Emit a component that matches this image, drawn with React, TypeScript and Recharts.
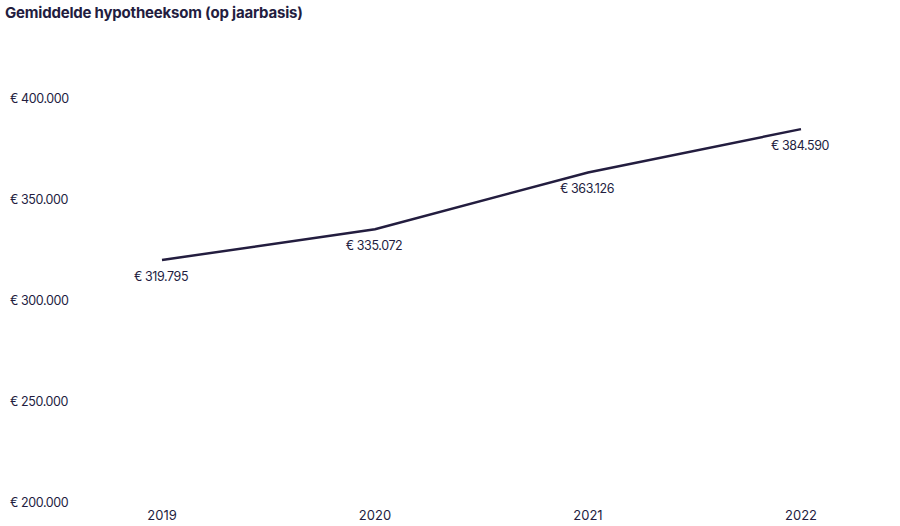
import { LineChart, Line, XAxis, YAxis, LabelList } from "recharts";

const years = ["2019", "2020", "2021", "2022"];
const mortgageAmounts = [319795, 335072, 363126, 384590];
const yTicks = [200000, 250000, 300000, 350000, 400000];

const data = years.map((year, i) => ({ year, amount: mortgageAmounts[i] }));

const ink = "#231d3f";
const font = "Inter, 'Noto Sans', sans-serif";

const euro = (v: number) => `€ ${v.toLocaleString("nl-NL")}`;

const YTick = ({ y, payload }: any) => (
  <text x={10} y={y + 5} textAnchor="start" fill={ink} fontSize={12.5} letterSpacing={-0.4} fontFamily={font}>
    {euro(payload.value)}
  </text>
);

const PointLabel = ({ x, y, value }: any) => (
  <text x={x - 1} y={y + 21} textAnchor="middle" fill={ink} fontSize={12.5} letterSpacing={-0.4} fontFamily={font}>
    {euro(value)}
  </text>
);

export default function App() {
  return (
    <div style={{ position: "absolute", left: 0, top: 0, width: 900, height: 526, background: "#fff" }}>
      <div
        style={{
          position: "absolute",
          left: 5,
          top: 3,
          fontFamily: font,
          fontWeight: 700,
          fontSize: 15,
          color: ink,
          letterSpacing: -0.2,
        }}
      >
        Gemiddelde hypotheeksom (op jaarbasis)
      </div>
      <LineChart width={900} height={526} data={data} margin={{ top: 98, right: 39, bottom: 4, left: 0 }}>
        <XAxis
          dataKey="year"
          axisLine={false}
          tickLine={false}
          height={20}
          padding={{ left: 62, right: 60 }}
          tick={{ fill: ink, fontSize: 13, fontFamily: font, dy: 1 }}
        />
        <YAxis
          yAxisId="left"
          domain={[200000, 400000]}
          ticks={yTicks}
          width={100}
          axisLine={false}
          tickLine={false}
          tick={<YTick />}
        />
        <YAxis
          yAxisId="right"
          orientation="right"
          width={0}
          tick={false}
          tickLine={false}
          axisLine={{ stroke: "#f2f2f2" }}
        />
        <Line
          yAxisId="left"
          dataKey="amount"
          stroke={ink}
          strokeWidth={2.5}
          dot={false}
          isAnimationActive={false}
        >
          <LabelList dataKey="amount" content={<PointLabel />} />
        </Line>
      </LineChart>
    </div>
  );
}
